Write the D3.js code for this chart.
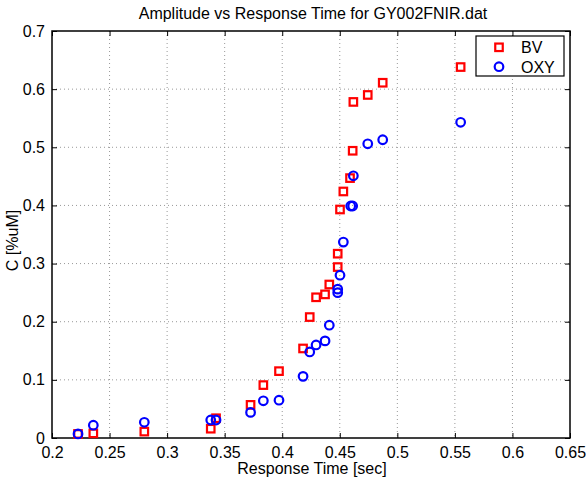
<!DOCTYPE html>
<html><head><meta charset="utf-8">
<script src="https://cdn.jsdelivr.net/npm/d3@7"></script>
<style>body{margin:0;background:#fff}svg{display:block;font-family:"Liberation Sans",Arial,sans-serif}</style>
</head><body><svg id="c" width="586" height="479"></svg>
<script>
const responseTime = [0.2226,0.2359,0.2802,0.3379,0.3425,0.3725,0.3836,0.3972,0.4181,0.4239,0.4294,0.4372,0.4409,0.4482,0.4482,0.4502,0.4531,0.4589,0.4612,0.4618,0.4743,0.4873,0.5550];
const bvValues   = [0.007,0.008,0.011,0.016,0.034,0.057,0.091,0.115,0.154,0.208,0.242,0.247,0.264,0.294,0.317,0.393,0.424,0.447,0.494,0.578,0.590,0.611,0.638];
const oxyXs      = [0.2226,0.2359,0.2802,0.3379,0.3425,0.3725,0.3836,0.3972,0.4181,0.4239,0.4294,0.4372,0.4409,0.4482,0.4482,0.4502,0.4531,0.4595,0.4612,0.4618,0.4743,0.4873,0.5550];
const oxyValues  = [0.007,0.022,0.027,0.031,0.031,0.044,0.064,0.065,0.106,0.148,0.160,0.167,0.194,0.250,0.256,0.280,0.337,0.399,0.399,0.451,0.506,0.513,0.543];
const xTicks = [0.2,0.25,0.3,0.35,0.4,0.45,0.5,0.55,0.6,0.65];
const yTicks = [0,0.1,0.2,0.3,0.4,0.5,0.6,0.7];
const title = "Amplitude vs Response Time for GY002FNIR.dat";
const xLabel = "Response Time [sec]";
const yLabel = "C [%uM]";
const seriesNames = ["BV","OXY"];

const L=52,R=570,T=31,B=438;
const svg=d3.select("#c");
const x=d3.scaleLinear().domain([0.2,0.65]).range([L,R]);
const y=d3.scaleLinear().domain([0,0.7]).range([B,T]);
const fs=16;
// grid
const g=svg.append("g");
g.selectAll("line.gx").data(xTicks.slice(1,-1)).join("line")
 .attr("x1",d=>x(d)).attr("x2",d=>x(d)).attr("y1",T).attr("y2",B)
 .attr("stroke","#999").attr("stroke-width",1).attr("stroke-dasharray","1,3");
g.selectAll("line.gy").data(yTicks.slice(1,-1)).join("line")
 .attr("y1",d=>y(d)).attr("y2",d=>y(d)).attr("x1",L).attr("x2",R)
 .attr("stroke","#999").attr("stroke-width",1).attr("stroke-dasharray","1,3");
// axes
const fmt=d=>d===0?"0":String(d);
const ax=svg.append("g").attr("transform",`translate(0,${B})`).call(d3.axisBottom(x).tickValues(xTicks).tickFormat(fmt).tickSizeInner(-5).tickSizeOuter(0).tickPadding(9));
const ay=svg.append("g").attr("transform",`translate(${L},0)`).call(d3.axisLeft(y).tickValues(yTicks).tickFormat(fmt).tickSizeInner(-5).tickSizeOuter(0).tickPadding(7));
const at=svg.append("g").attr("transform",`translate(0,${T})`).call(d3.axisTop(x).tickValues(xTicks).tickFormat("").tickSizeInner(-5).tickSizeOuter(0));
const ar=svg.append("g").attr("transform",`translate(${R},0)`).call(d3.axisRight(y).tickValues(yTicks).tickFormat("").tickSizeInner(-5).tickSizeOuter(0));
[ax,ay,at,ar].forEach(a=>{a.select(".domain").remove();a.selectAll("line").attr("stroke","#000");a.selectAll("text").attr("font-size",fs).attr("fill","#000").attr("font-family","Liberation Sans, Arial, sans-serif");});
svg.append("rect").attr("x",L).attr("y",T).attr("width",R-L).attr("height",B-T).attr("fill","none").attr("stroke","#000").attr("stroke-width",1.5);
// data
const bv=responseTime.map((t,i)=>[t,bvValues[i]]);
const oxy=oxyXs.map((t,i)=>[t,oxyValues[i]]);
svg.append("g").selectAll("rect").data(bv).join("rect")
 .attr("x",d=>x(d[0])-3.75).attr("y",d=>y(d[1])-3.75).attr("width",7.5).attr("height",7.5)
 .attr("fill","none").attr("stroke","#f00").attr("stroke-width",2.2);
svg.append("g").selectAll("circle").data(oxy).join("circle")
 .attr("cx",d=>x(d[0])).attr("cy",d=>y(d[1])).attr("r",4.3)
 .attr("fill","none").attr("stroke","#00f").attr("stroke-width",2.2);
// labels
svg.append("text").attr("x",(L+R)/2+2).attr("y",19).attr("text-anchor","middle").attr("font-size",fs).text(title);
svg.append("text").attr("x",(L+R)/2+1).attr("y",474).attr("text-anchor","middle").attr("font-size",fs).text(xLabel);
svg.append("text").attr("transform",`translate(18,${(T+B)/2+6}) rotate(-90)`).attr("text-anchor","middle").attr("font-size",fs).text(yLabel);
// legend
const lg=svg.append("g");
lg.append("rect").attr("x",476).attr("y",36).attr("width",88).attr("height",40).attr("fill","#fff").attr("stroke","#000").attr("stroke-width",1.2);
lg.append("rect").attr("x",499-3.75).attr("y",47.3-3.75).attr("width",7.5).attr("height",7.5).attr("fill","none").attr("stroke","#f00").attr("stroke-width",2.2);
lg.append("circle").attr("cx",499).attr("cy",66.7).attr("r",4.3).attr("fill","none").attr("stroke","#00f").attr("stroke-width",2.2);
lg.append("text").attr("x",521).attr("y",53).attr("font-size",fs).text(seriesNames[0]);
lg.append("text").attr("x",521).attr("y",72.5).attr("font-size",fs).text(seriesNames[1]);
</script></body></html>
